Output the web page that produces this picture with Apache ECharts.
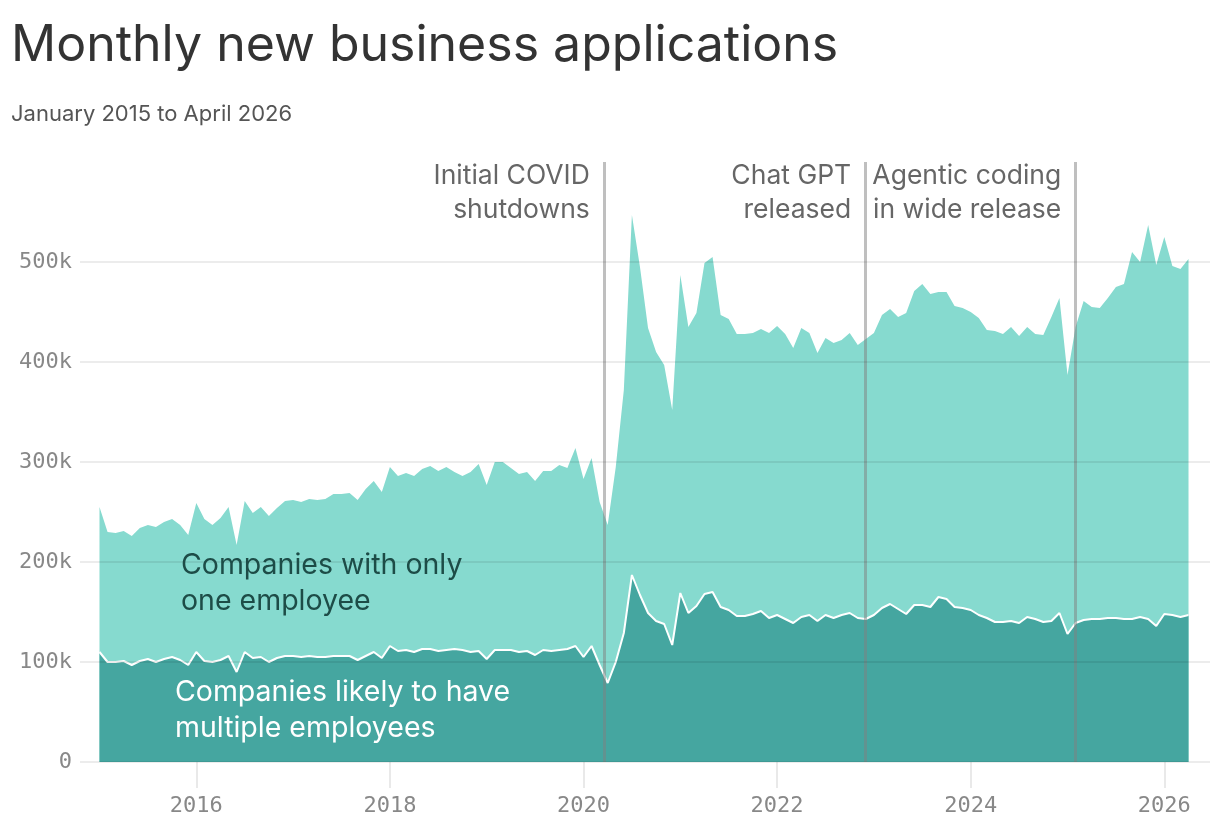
<!DOCTYPE html>
<html>
<head>
<meta charset="utf-8">
<title>Monthly new business applications</title>
<script src="https://cdn.jsdelivr.net/npm/echarts@6/dist/echarts.min.js"></script>
<style>
  html, body { margin: 0; padding: 0; background: #fff; }
  #main { width: 1220px; height: 830px; }
</style>
</head>
<body>
<div id="main"></div>
<script>
// monthly, January 2015 .. April 2026, in thousands
var startYear = 2015;

// all new business applications (top of the light area)
var totalApps = [
  255, 230, 229, 231, 226, 234, 237, 235, 240, 243, 237, 227,
  259, 243, 237, 244, 255, 217, 261, 249, 255, 246, 254, 261,
  262, 260, 263, 262, 263, 268, 268, 269, 262, 273, 281, 270,
  295, 286, 289, 286, 293, 296, 291, 295, 290, 286, 290, 298,
  277, 300, 300, 294, 288, 290, 281, 291, 291, 297, 294, 314,
  283, 304, 260, 237, 295, 372, 547, 495, 434, 410, 397, 352,
  487, 435, 449, 499, 505, 447, 443, 428, 428, 429, 433, 429,
  436, 428, 414, 434, 429, 409, 424, 419, 422, 429, 417, 423,
  429, 447, 453, 445, 449, 471, 478, 468, 470, 470, 456, 454,
  450, 444, 432, 431, 428, 435, 426, 435, 428, 427, 445, 464,
  387, 435, 461, 455, 454, 464, 475, 478, 510, 500, 537, 497,
  525, 496, 493, 503
];

// applications likely to have multiple employees (dark area)
var multiEmployee = [
  110, 100, 100, 101, 97, 101, 103, 100, 103, 105, 102, 97,
  110, 101, 100, 102, 106, 90, 110, 104, 105, 100, 104, 106,
  106, 105, 106, 105, 105, 106, 106, 106, 102, 106, 110, 104,
  116, 111, 112, 110, 113, 113, 111, 112, 113, 112, 110, 111,
  103, 112, 112, 112, 110, 111, 107, 112, 111, 112, 113, 116,
  105, 116, 97, 79, 100, 129, 187, 167, 149, 141, 138, 117,
  169, 149, 156, 168, 170, 155, 152, 146, 146, 148, 151, 144,
  147, 143, 139, 145, 147, 141, 147, 144, 147, 149, 144, 143,
  147, 154, 158, 153, 148, 157, 157, 155, 165, 163, 155, 154,
  152, 147, 144, 140, 140, 141, 139, 145, 143, 140, 141, 149,
  128, 139, 142, 143, 143, 144, 144, 143, 143, 145, 143, 136,
  148, 147, 145, 147
];

var yearTicks = [2016, 2018, 2020, 2022, 2024, 2026];
var eventDates = [2020.21, 2022.91, 2025.08];
var eventLabels = ['Initial COVID\nshutdowns', 'Chat GPT\nreleased', 'Agentic coding\nin wide release'];

function pairs(values) {
  return values.map(function (v, i) {
    return [startYear + i / 12, v];
  });
}

var chart = echarts.init(document.getElementById('main'));

var monoFont = 'DejaVu Sans Mono';
var sansFont = 'Inter';

chart.setOption({
  animation: false,
  title: {
    text: 'Monthly new business applications',
    subtext: 'January 2015 to April 2026',
    left: 6,
    top: 16,
    itemGap: 32,
    textStyle: { fontFamily: sansFont, fontSize: 50, fontWeight: 'normal', color: '#333' },
    subtextStyle: { fontFamily: sansFont, fontSize: 22, color: '#555' }
  },
  grid: { left: 80, right: 10, top: 162, bottom: 68 },
  xAxis: {
    type: 'value',
    min: 2014.7986,
    max: 2026.472,
    axisLine: { show: false },
    splitLine: { show: false },
    axisTick: {
      customValues: yearTicks,
      length: 26,
      lineStyle: { color: '#e2e2e2', width: 1.5 }
    },
    axisLabel: {
      customValues: yearTicks,
      margin: 33,
      fontFamily: monoFont,
      fontSize: 22,
      color: '#888',
      formatter: function (v) { return String(Math.round(v)); }
    }
  },
  yAxis: {
    type: 'value',
    min: 0,
    max: 600,
    interval: 100,
    z: 10,
    axisLine: { show: false },
    axisTick: { show: false },
    axisLabel: {
      margin: 8,
      fontFamily: monoFont,
      fontSize: 22,
      color: '#888',
      formatter: function (v) {
        if (v === 600) return '';
        return v === 0 ? '0' : v + 'k';
      }
    },
    splitLine: {
      lineStyle: {
        color: ['rgba(0,0,0,0.1)', 'rgba(0,0,0,0.1)', 'rgba(0,0,0,0.1)', 'rgba(0,0,0,0.1)',
                'rgba(0,0,0,0.1)', 'rgba(0,0,0,0.1)', 'rgba(0,0,0,0)'],
        width: 1.5
      }
    }
  },
  series: [
    {
      name: 'Companies with only one employee',
      type: 'line',
      data: pairs(totalApps),
      symbol: 'none',
      lineStyle: { width: 0 },
      areaStyle: { color: '#86dacf', opacity: 1 },
      z: 2
    },
    {
      name: 'Companies likely to have multiple employees',
      type: 'line',
      data: pairs(multiEmployee),
      symbol: 'none',
      lineStyle: { width: 2, color: '#ffffff' },
      areaStyle: { color: '#45a6a0', opacity: 1 },
      z: 3,
      markLine: {
        silent: true,
        symbol: 'none',
        label: { show: false },
        lineStyle: { color: 'rgba(128,128,128,0.5)', width: 3, type: 'solid' },
        data: eventDates.map(function (d) { return { xAxis: d }; })
      }
    }
  ]
});

// annotation text next to each event line, and the two area labels
var texts = eventDates.map(function (d, i) {
  var p = chart.convertToPixel({ gridIndex: 0 }, [d, 600]);
  return {
    type: 'text',
    x: p[0] - 14,
    y: p[1] - 3,
    z: 20,
    style: {
      text: eventLabels[i],
      fontFamily: sansFont,
      fontSize: 26.5,
      lineHeight: 34,
      fill: '#666',
      align: 'right',
      verticalAlign: 'top'
    }
  };
});

texts.push({
  type: 'text',
  x: 181,
  y: 547,
  z: 20,
  style: {
    text: 'Companies with only\none employee',
    fontFamily: sansFont,
    fontSize: 28.5,
    lineHeight: 36,
    fill: '#1d4c47'
  }
});
texts.push({
  type: 'text',
  x: 175,
  y: 674,
  z: 20,
  style: {
    text: 'Companies likely to have\nmultiple employees',
    fontFamily: sansFont,
    fontSize: 28.5,
    lineHeight: 36,
    fill: '#ffffff'
  }
});

chart.setOption({ graphic: texts });
</script>
</body>
</html>
